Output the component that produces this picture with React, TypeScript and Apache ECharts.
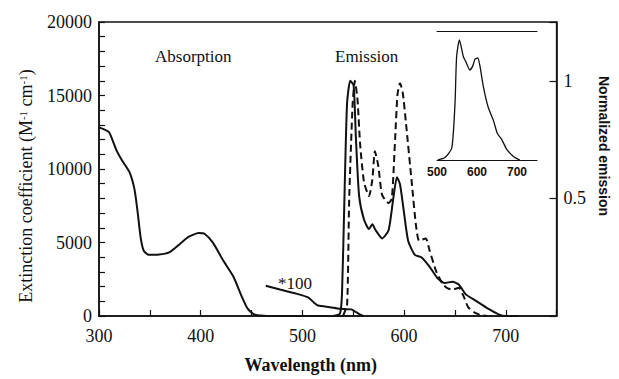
import React, { useEffect, useRef } from "react";
import * as echarts from "echarts";

// Absorption (extinction coefficient, M^-1 cm^-1)
const absWavelength = [300, 305, 310, 317, 323, 330, 335, 338, 341, 344, 349, 359, 369, 378, 388, 398, 404, 412, 422, 432, 440, 446, 452, 462, 480, 500, 520, 530, 538, 546];
const absValue = [12830, 12700, 12500, 11300, 10540, 9780, 8580, 7060, 5310, 4440, 4160, 4180, 4330, 4810, 5380, 5640, 5580, 4990, 3790, 2700, 1390, 520, 130, 20, 0, 0, -20, -80, -40, 0];

// Absorption tail multiplied by 100
const abs100Wavelength = [464, 478, 494, 506, 511, 515.5, 527, 536.5, 542, 548, 552, 556, 560];
const abs100Value = [2060, 1800, 1520, 1250, 930, 710, 600, 490, 470, 450, 300, 120, 0];

// Normalized emission, solid curve
const emSolidWavelength = [530, 537, 539, 541.3, 543.9, 547, 550.4, 552.6, 555.8, 560.6, 565.5, 568.8, 572, 578.4, 584.8, 589.7, 593, 596, 599.3, 604, 610.6, 617, 625, 633, 639.7, 647.7, 654, 660.7, 670.4, 683, 693, 700, 712];
const emSolidValue = [0, 0.01, 0.1, 0.49, 0.9, 1.0, 0.98, 0.76, 0.51, 0.41, 0.37, 0.39, 0.365, 0.33, 0.365, 0.51, 0.59, 0.56, 0.46, 0.32, 0.26, 0.25, 0.21, 0.16, 0.14, 0.146, 0.133, 0.092, 0.065, 0.03, 0.007, 0, 0];

// Normalized emission, dashed curve
const emDashWavelength = [540, 544, 546, 549.4, 551.6, 554.2, 556.8, 560.6, 565.5, 568.8, 571.3, 574.6, 578.4, 584.8, 588, 591.3, 593.5, 596, 598.7, 602, 607.5, 611.6, 614.8, 621.3, 625, 631.6, 638, 643, 647.7, 654, 659, 663, 670, 675, 682];
const emDashValue = [0, 0.05, 0.49, 0.9, 1.0, 0.92, 0.73, 0.57, 0.51, 0.58, 0.7, 0.64, 0.515, 0.48, 0.5, 0.76, 0.94, 0.99, 0.95, 0.815, 0.57, 0.39, 0.32, 0.33, 0.28, 0.19, 0.136, 0.117, 0.113, 0.12, 0.079, 0.038, 0.013, 0.005, 0];

// Inset emission spectrum
const insetWavelength = [502, 520, 537, 545, 549, 556, 566, 572, 582, 589, 595, 602, 607, 616, 628, 641, 651, 662, 674, 691, 707];
const insetValue = [0, 0.02, 0.1, 0.47, 0.86, 1.0, 0.86, 0.82, 0.75, 0.78, 0.84, 0.85, 0.79, 0.61, 0.44, 0.33, 0.22, 0.17, 0.09, 0.03, 0];

const zip = (xs: number[], ys: number[]) => xs.map((x, i) => [x, ys[i]]);

const SERIF = "Liberation Serif";
const SANS = "Liberation Sans";

export default function App() {
  const ref = useRef<HTMLDivElement>(null);
  useEffect(() => {
    if (!ref.current) return;
    const chart = echarts.init(ref.current, undefined, { renderer: "svg" });
    const black = "#111";
    const option: any = {
      animation: false,
      backgroundColor: "#fff",
      grid: [
        { left: 99, right: 56, top: 22, bottom: 52, show: true, borderColor: black, borderWidth: 1.5, backgroundColor: "transparent" },
        { left: 437, top: 31, width: 100, height: 129 },
      ],
      xAxis: [
        {
          type: "value",
          gridIndex: 0,
          min: 300,
          max: 750,
          interval: 50,
          name: "Wavelength (nm)",
          nameLocation: "middle",
          nameGap: 40,
          nameTextStyle: { fontFamily: SERIF, fontSize: 18, fontWeight: "bold", color: black, padding: [0, 34, 0, 0] },
          axisLine: { lineStyle: { color: black, width: 1.5 } },
          axisTick: { inside: true, length: 6, lineStyle: { color: black, width: 1.2 } },
          axisLabel: {
            margin: 11,
            fontFamily: SERIF,
            fontSize: 18,
            color: black,
            formatter: (v: number) => (v % 100 === 0 && v < 750 ? String(v) : ""),
          },
          splitLine: { show: false },
        },
        {
          type: "value",
          gridIndex: 1,
          min: 500,
          max: 750,
          interval: 100,
          axisLine: { lineStyle: { color: black, width: 1 } },
          axisTick: { show: false },
          axisLabel: {
            margin: 6,
            fontFamily: SANS,
            fontWeight: "bold",
            fontSize: 12,
            color: black,
            formatter: (v: number) => (v <= 700 ? String(v) : ""),
          },
          splitLine: { show: false },
        },
        {
          type: "value",
          gridIndex: 1,
          position: "top",
          min: 500,
          max: 750,
          axisLine: { show: true, lineStyle: { color: black, width: 1 } },
          axisTick: { show: false },
          axisLabel: { show: false },
          splitLine: { show: false },
        },
      ],
      yAxis: [
        {
          type: "value",
          gridIndex: 0,
          min: 0,
          max: 20000,
          interval: 1000,
          name: "Extinction coefficient (M{sup|-1} cm{sup|-1})",
          nameLocation: "middle",
          nameGap: 64,
          nameTextStyle: {
            fontFamily: SERIF,
            fontSize: 18,
            color: black,
            padding: [0, 34, 0, 0],
            rich: { sup: { fontFamily: SERIF, fontSize: 11, color: black, verticalAlign: "top" } },
          },
          axisLine: { lineStyle: { color: black, width: 1.5 } },
          axisTick: { inside: true, length: 6, lineStyle: { color: black, width: 1.2 } },
          axisLabel: {
            margin: 7,
            fontFamily: SERIF,
            fontSize: 18,
            color: black,
            formatter: (v: number) => (v % 5000 === 0 ? String(v) : ""),
          },
          splitLine: { show: false },
        },
        {
          type: "value",
          gridIndex: 0,
          position: "right",
          min: 0,
          max: 1.25,
          interval: 0.5,
          name: "Normalized emission",
          nameLocation: "middle",
          nameRotate: -90,
          nameGap: 38,
          nameTextStyle: { fontFamily: SANS, fontSize: 14, fontWeight: "bold", color: black, padding: [0, 46, 0, 0] },
          axisLine: { show: true, lineStyle: { color: black, width: 1.5 } },
          axisTick: { inside: true, length: 7, lineStyle: { color: black, width: 1.2 } },
          axisLabel: {
            margin: 7,
            fontFamily: SERIF,
            fontSize: 18,
            color: black,
            formatter: (v: number) => (v === 1 ? "1" : v === 0.5 ? "0.5" : ""),
          },
          splitLine: { show: false },
        },
        {
          type: "value",
          gridIndex: 1,
          min: 0,
          max: 1.075,
          show: false,
        },
      ],
      graphic: [
        { type: "text", left: 155, top: 48, style: { text: "Absorption", font: `17px "${SERIF}"`, fill: black } },
        { type: "text", left: 335, top: 48, style: { text: "Emission", font: `17px "${SERIF}"`, fill: black } },
        { type: "text", left: 278, top: 275, style: { text: "*100", font: `17px "${SERIF}"`, fill: black } },
      ],
      series: [
        {
          type: "line",
          name: "Absorption",
          xAxisIndex: 0,
          yAxisIndex: 0,
          data: zip(absWavelength, absValue),
          showSymbol: false,
          smooth: 0.2,
          lineStyle: { color: black, width: 2 },
        },
        {
          type: "line",
          name: "Absorption x100",
          xAxisIndex: 0,
          yAxisIndex: 0,
          data: zip(abs100Wavelength, abs100Value),
          showSymbol: false,
          smooth: 0.2,
          lineStyle: { color: black, width: 2 },
        },
        {
          type: "line",
          name: "Emission solid",
          xAxisIndex: 0,
          yAxisIndex: 1,
          data: zip(emSolidWavelength, emSolidValue),
          showSymbol: false,
          smooth: 0.2,
          lineStyle: { color: black, width: 2 },
        },
        {
          type: "line",
          name: "Emission dashed",
          xAxisIndex: 0,
          yAxisIndex: 1,
          data: zip(emDashWavelength, emDashValue),
          showSymbol: false,
          smooth: 0.2,
          lineStyle: { color: black, width: 2, type: [7, 4] },
        },
        {
          type: "line",
          name: "Inset",
          xAxisIndex: 1,
          yAxisIndex: 2,
          data: zip(insetWavelength, insetValue),
          showSymbol: false,
          smooth: 0.2,
          lineStyle: { color: black, width: 1.3 },
        },
      ],
    };
    chart.setOption(option);
    return () => chart.dispose();
  }, []);
  return <div ref={ref} style={{ position: "absolute", left: 0, top: 0, width: 619, height: 379, background: "#fff" }} />;
}
